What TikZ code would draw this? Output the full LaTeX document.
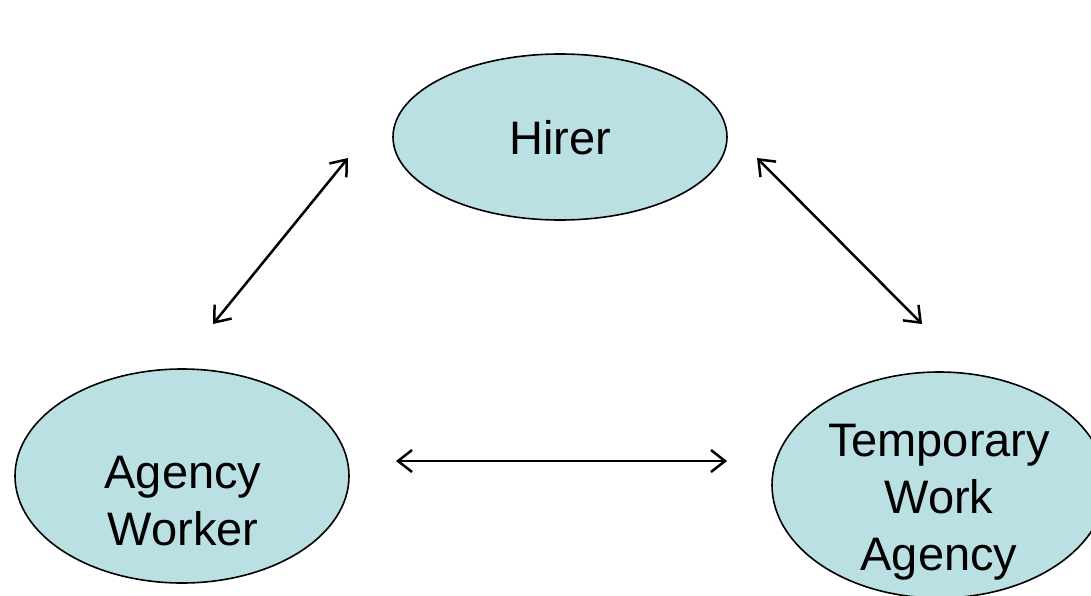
\documentclass[tikz,border=0pt]{standalone}
\usepackage{fontspec}
\setmainfont{Liberation Sans}
\usetikzlibrary{arrows.meta,shapes.geometric}
\definecolor{ellfill}{RGB}{187,224,227}
\tikzset{
  party/.style={draw=black, line width=1.6pt, fill=ellfill, ellipse, inner sep=0pt},
  lbl/.style={align=center, inner sep=0pt, font=\fontsize{47}{57}\selectfont},
  rel/.style={line width=2.5pt, {Straight Barb[length=14pt,width=22pt,line width=2.5pt]}-{Straight Barb[length=14pt,width=22pt,line width=2.5pt]}}
}
\begin{document}
\begin{tikzpicture}[x=1pt,y=-1pt]
\useasboundingbox (0,0) rectangle (1091,595);
\fill[white] (0,0) rectangle (1091,595);
\node[party, minimum width=334pt, minimum height=166pt] (hirer) at (560,137) {};
\node[party, minimum width=334pt, minimum height=214pt] (worker) at (182,476) {};
\node[party, minimum width=334pt, minimum height=226pt] (agency) at (939,485) {};
\node[lbl] (hirerT) at (560,138) {Hirer};
\node[lbl] (workerT) at (183,501) {Agency\\Worker};
\node[lbl] (agencyT) at (939,502) {Temporary\\Work\\Agency};
\coordinate (a1) at (348,158);
\coordinate (a2) at (213,324);
\coordinate (b1) at (757,158);
\coordinate (b2) at (922,324);
\coordinate (c1) at (396,461);
\coordinate (c2) at (727,461);
\draw[rel] (a1) -- (a2);
\draw[rel] (b1) -- (b2);
\draw[rel] (c1) -- (c2);
\end{tikzpicture}
\end{document}
